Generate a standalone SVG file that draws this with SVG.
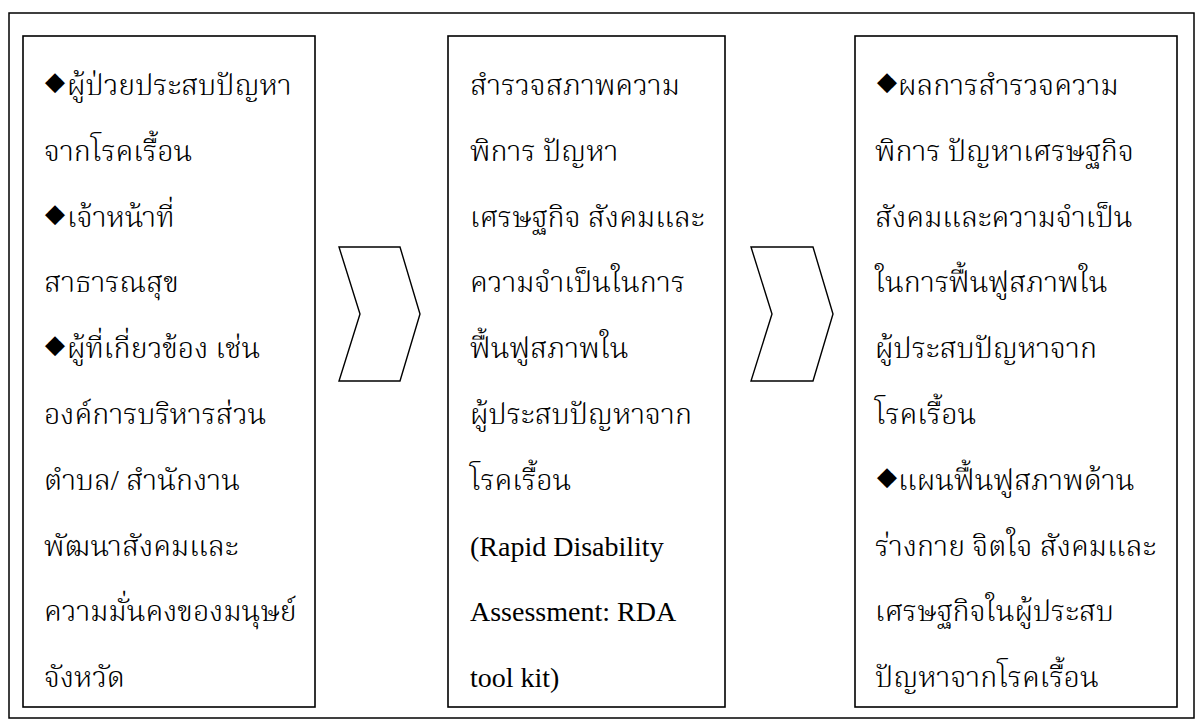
<svg xmlns="http://www.w3.org/2000/svg" width="1202" height="720" viewBox="0 0 1202 720">
<style>
.frame{fill:#fff;stroke:#000;stroke-width:1.5}
.box{fill:#fff;stroke:#000;stroke-width:1.6}
.chev{fill:#fff;stroke:#000;stroke-width:1.4;stroke-linejoin:miter}
.t{font-family:"Liberation Serif","Laksaman","Norasi","Kinnari","Noto Serif Thai","Noto Sans Thai",serif;font-size:29px;font-weight:300;fill:#000}
.l{font-family:"Liberation Serif",serif;font-size:28px;font-weight:normal;fill:#000}
.b{font-family:"DejaVu Sans",sans-serif;font-size:26px;font-weight:normal}
</style>
<rect width="1202" height="720" fill="#fff"/>
<rect class="frame" x="9" y="13" width="1185" height="705"/>
<g id="node-left">
<rect class="box" x="23" y="36" width="292" height="671"/>
<text class="t"><tspan class="b" x="45" y="90">◆</tspan><tspan x="67" y="95">ผู้ป่วยประสบปัญหา</tspan></text>
<text class="t" x="44" y="161">จากโรคเรื้อน</text>
<text class="t"><tspan class="b" x="45" y="222">◆</tspan><tspan x="67" y="227">เจ้าหน้าที่</tspan></text>
<text class="t" x="44" y="292">สาธารณสุข</text>
<text class="t"><tspan class="b" x="45" y="353">◆</tspan><tspan x="67" y="358">ผู้ที่เกี่ยวข้อง เช่น</tspan></text>
<text class="t" x="44" y="424">องค์การบริหารส่วน</text>
<text class="t" x="44" y="490">ตำบล/ สำนักงาน</text>
<text class="t" x="44" y="556">พัฒนาสังคมและ</text>
<text class="t" x="44" y="621">ความมั่นคงของมนุษย์</text>
<text class="t" x="44" y="687">จังหวัด</text>
</g>
<g id="node-middle">
<rect class="box" x="448" y="36" width="277" height="671"/>
<text class="t" x="470" y="95">สำรวจสภาพความ</text>
<text class="t" x="470" y="161">พิการ ปัญหา</text>
<text class="t" x="470" y="227">เศรษฐกิจ สังคมและ</text>
<text class="t" x="470" y="292">ความจำเป็นในการ</text>
<text class="t" x="470" y="358">ฟื้นฟูสภาพใน</text>
<text class="t" x="470" y="424">ผู้ประสบปัญหาจาก</text>
<text class="t" x="470" y="490">โรคเรื้อน</text>
<text class="l" x="470" y="556">(Rapid Disability</text>
<text class="l" x="470" y="621">Assessment: RDA</text>
<text class="l" x="470" y="687">tool kit)</text>
</g>
<g id="node-right">
<rect class="box" x="855" y="36" width="322" height="671"/>
<text class="t"><tspan class="b" x="877" y="90">◆</tspan><tspan x="898" y="95">ผลการสำรวจความ</tspan></text>
<text class="t" x="875" y="161">พิการ ปัญหาเศรษฐกิจ</text>
<text class="t" x="875" y="227">สังคมและความจำเป็น</text>
<text class="t" x="875" y="292">ในการฟื้นฟูสภาพใน</text>
<text class="t" x="875" y="358">ผู้ประสบปัญหาจาก</text>
<text class="t" x="875" y="424">โรคเรื้อน</text>
<text class="t"><tspan class="b" x="877" y="485">◆</tspan><tspan x="898" y="490">แผนฟื้นฟูสภาพด้าน</tspan></text>
<text class="t" x="875" y="556">ร่างกาย จิตใจ สังคมและ</text>
<text class="t" x="875" y="621">เศรษฐกิจในผู้ประสบ</text>
<text class="t" x="875" y="687">ปัญหาจากโรคเรื้อน</text>
</g>
<g id="connectors">
<polygon class="chev" points="339,247 400,247 420,314 400,381 339,381 360,314"/>
<polygon class="chev" points="751,247 813,247 833,314 813,381 751,381 772,314"/>
</g>
</svg>
